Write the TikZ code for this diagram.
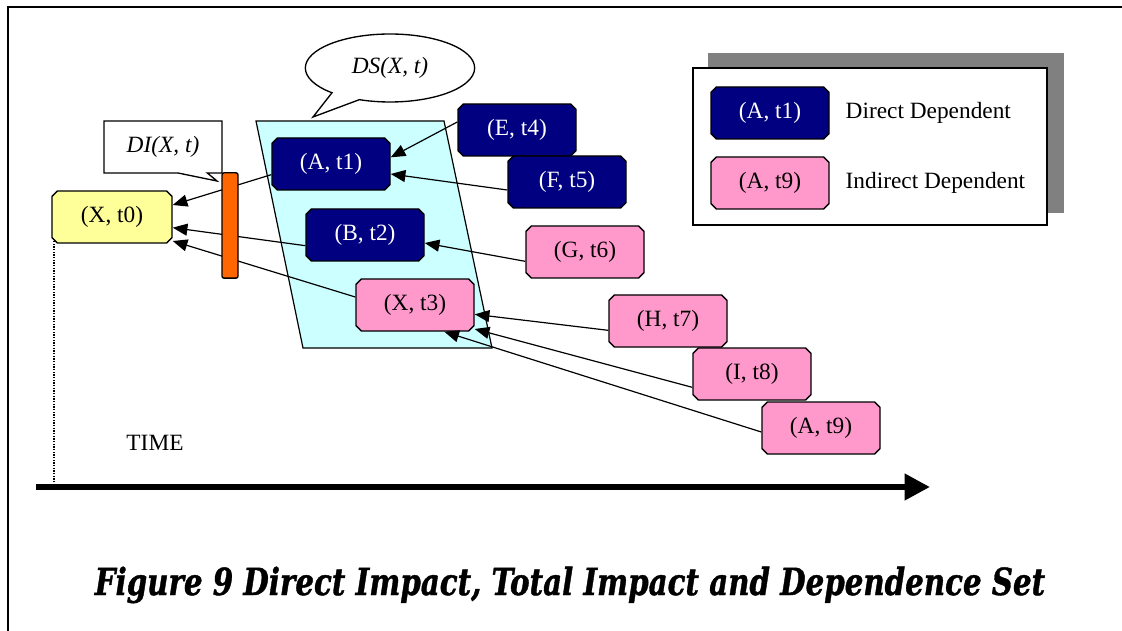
\documentclass[tikz,border=0pt]{standalone}
\usepackage{fontspec}
\setmainfont{Liberation Serif}
\newfontfamily\captionfont{DejaVu Serif}[BoldItalicFeatures={FakeBold=1.2}]
\usetikzlibrary{shapes.misc,shapes.callouts,arrows.meta}
\definecolor{navyblue}{RGB}{0,0,128}
\definecolor{pinkish}{RGB}{255,153,204}
\definecolor{paleyellow}{RGB}{255,255,153}
\definecolor{palecyan}{RGB}{204,255,255}
\definecolor{barorange}{RGB}{255,102,0}
\definecolor{shadowgray}{RGB}{128,128,128}

\begin{document}
\begin{tikzpicture}[x=0.75pt,y=-0.75pt]
	\tikzset{
	  EventStyle/.style = { chamfered rectangle, chamfered rectangle xsep=2pt,
	                        chamfered rectangle ysep=2pt, draw, line width=1.1pt,
	                        minimum width=88.5pt, minimum height=39pt, inner sep=0pt,
	                        font = \fontsize{17.5}{21}\selectfont },
	  DirectStyle/.style = { EventStyle, fill=navyblue, text=white },
	  IndirectStyle/.style = { EventStyle, fill=pinkish },
	  LabelStyle/.style = { font = \fontsize{17.5}{21}\selectfont },
	  CalloutStyle/.style = { draw, fill=white, line width=1pt, inner sep=0pt,
	                          font = \fontsize{17.5}{21}\selectfont\itshape },
	  EdgeStyle/.style = { -{Triangle[length=11pt,width=9pt]}, line width=0.9pt } }
	\useasboundingbox (0,0) rectangle (1122,631);
	\draw[line width=1.8pt] (8,631) -- (8,7) -- (1122,7);
	\draw[fill=palecyan, line width=0.9pt] (256,121) -- (444,121) -- (492,348) -- (303,348) -- cycle;
	\fill[shadowgray] (708,53) rectangle (1064,213);
	\draw[fill=white, line width=1.2pt] (693,68) rectangle (1047,225);
	\node[ellipse callout, CalloutStyle, minimum width=127pt, minimum height=51pt,
	      callout pointer arc=22, callout absolute pointer={(313,117)}] (DS) at (390,68) {DS(X, t)};
	\node[rectangle callout, CalloutStyle, minimum width=88.5pt, minimum height=39pt,
	      callout pointer width=22pt, callout absolute pointer={(217,181)}] (DI) at (163,147) {DI(X, t)};
	\node[EventStyle, fill=paleyellow, minimum width=90pt] (X0) at (112,217) {(X, t0)};
	\node[DirectStyle] (A1) at (331,164) {(A, t1)};
	\node[DirectStyle] (B2) at (365,235) {(B, t2)};
	\node[IndirectStyle] (X3) at (415,305) {(X, t3)};
	\node[DirectStyle] (E4) at (517,130) {(E, t4)};
	\node[DirectStyle] (F5) at (567,182) {(F, t5)};
	\node[IndirectStyle] (G6) at (585,252) {(G, t6)};
	\node[IndirectStyle] (H7) at (668,321) {(H, t7)};
	\node[IndirectStyle] (I8) at (752,374) {(I, t8)};
	\node[IndirectStyle] (A9) at (821,428) {(A, t9)};
	\node[DirectStyle] (KeyDirect) at (770,113) {(A, t1)};
	\node[IndirectStyle] (KeyIndirect) at (770,183) {(A, t9)};
	\node[LabelStyle, anchor=west] (KeyDirectText) at (841,113) {Direct Dependent};
	\node[LabelStyle, anchor=west] (KeyIndirectText) at (841,183) {Indirect Dependent};
	\draw[EdgeStyle] ([yshift=-8pt]A1.west) -- ([yshift=9pt]X0.east);
	\draw[EdgeStyle] ([yshift=-8pt]B2.west) -- ([yshift=-8pt]X0.east);
	\draw[EdgeStyle] ([yshift=6pt]X3.west) -- ([yshift=-18pt]X0.east);
	\draw[EdgeStyle] ([yshift=6pt]E4.west) -- ([yshift=5pt]A1.east);
	\draw[EdgeStyle] ([yshift=-6pt]F5.west) -- ([yshift=-7.5pt]A1.east);
	\draw[EdgeStyle] ([yshift=-7pt]G6.west) -- ([yshift=-6pt]B2.east);
	\draw[EdgeStyle] ([yshift=-7pt]H7.west) -- ([yshift=-7pt]X3.east);
	\draw[EdgeStyle] ([yshift=-10pt]I8.west) -- ([yshift=-18pt]X3.east);
	\draw[EdgeStyle] ([yshift=-3pt]A9.west) -- ([xshift=22pt]X3.south);
	\node[draw, fill=barorange, rounded corners=1.5pt, line width=1pt, inner sep=0pt,
	      minimum width=12pt, minimum height=79pt] (Bar) at (230,225.5) {};
	\coordinate (TimeStart) at (36,487);
	\coordinate (TimeEnd) at (930,487);
	\draw[line width=4.5pt, -{Triangle[length=19pt,width=19pt]}] (TimeStart) -- (TimeEnd);
	\draw[line width=1pt, dash pattern=on 1pt off 1pt] (X0.south west) -- (X0.south west |- TimeStart);
	\node[LabelStyle] (Time) at (155,443) {TIME};
	\node[anchor=base, font=\captionfont\bfseries\itshape\fontsize{28}{32}\selectfont] (Caption) at (570,595)
	  {\scalebox{0.785}[1]{Figure 9 Direct Impact, Total Impact and Dependence Set}};
\end{tikzpicture}
\end{document}
